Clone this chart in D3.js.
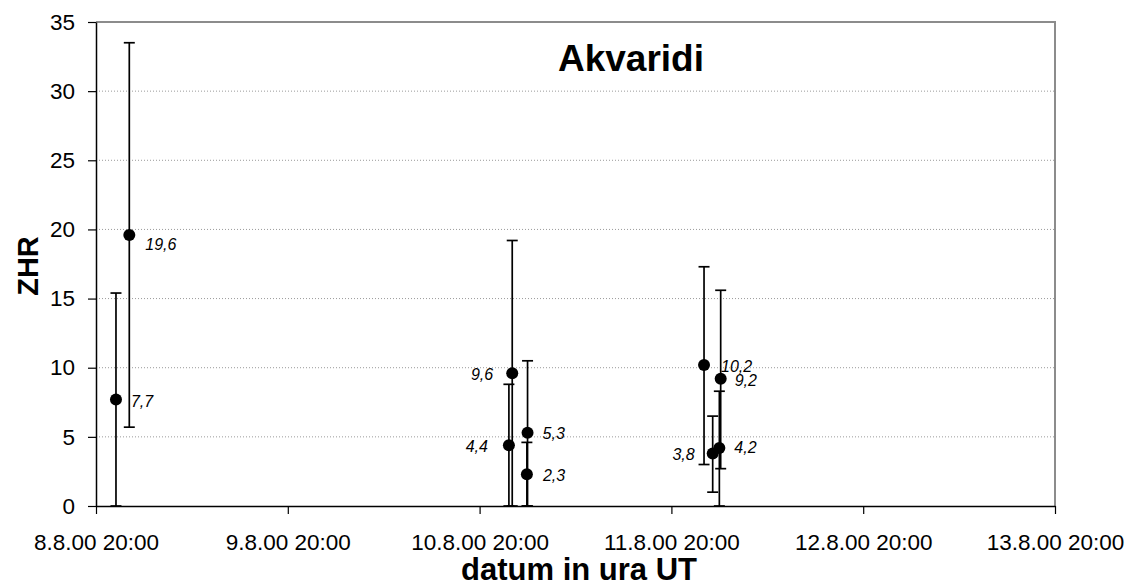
<html>
  <head>
    <script src='https://d3js.org/d3.v7.min.js'></script>
    <style>
      body { margin: 0; background: #fff; }
      text { font-family: 'Liberation Sans', Arial, sans-serif; }
    </style>
  </head>
  <body>
    <svg id='chart' width=1130 height=588></svg>
    <script>
      // observation times (UT) and ZHR with error bar limits
      const TIMES = ['2000-08-08T22:30', '2000-08-09T00:10', '2000-08-10T23:40', '2000-08-11T00:05', '2000-08-11T02:00',
                     '2000-08-11T01:55', '2000-08-12T00:05', '2000-08-12T02:10', '2000-08-12T01:10', '2000-08-12T02:00'];
      const ZHR = [7.7, 19.6, 4.4, 9.6, 5.3, 2.3, 10.2, 9.2, 3.8, 4.2];
      const ERR_LOW = [0, 5.7, 0, 0, 0, 0, 3.0, 2.7, 1.0, 0];
      const ERR_HIGH = [15.4, 33.5, 8.8, 19.2, 10.5, 4.6, 17.3, 15.6, 6.5, 8.3];
      const LABELS = ['7,7', '19,6', '4,4', '9,6', '5,3', '2,3', '10,2', '9,2', '3,8', '4,2'];
      const Y_TICKS = [0, 5, 10, 15, 20, 25, 30, 35];
      const X_TICKS = ['2000-08-08T20:00', '2000-08-09T20:00', '2000-08-10T20:00',
                       '2000-08-11T20:00', '2000-08-12T20:00', '2000-08-13T20:00'];

      // where each value label sits relative to its dot [dx, dy, anchor]
      const LABEL_POS = [[15, 2, 'start'], [16, 9, 'start'], [-21, 1, 'end'], [-19, 1, 'end'], [15, 1, 'start'],
                         [16, 1, 'start'], [17, 1, 'start'], [14, 2, 'start'], [-18, 1, 'end'], [15, -1, 'start']];

      const parse = d3.utcParse('%Y-%m-%dT%H:%M');
      const fmt = d3.utcFormat('%-d.%-m.%y %H:%M');

      const plotLeft = 96, plotRight = 1055, plotTop = 22, plotBottom = 506;
      const svg = d3.select('#chart');

      const x = d3.scaleUtc()
        .domain([parse(X_TICKS[0]), parse(X_TICKS[X_TICKS.length - 1])])
        .range([plotLeft, plotRight]);
      const y = d3.scaleLinear().domain([0, 35]).range([plotBottom, plotTop]);

      // gridlines
      svg.append('g').selectAll('line').data(Y_TICKS.filter(d => d > 0 && d < 35)).enter().append('line')
        .attr('x1', plotLeft).attr('x2', plotRight)
        .attr('y1', d => y(d)).attr('y2', d => y(d))
        .attr('stroke', '#9a9a9a').attr('stroke-width', 1).attr('stroke-dasharray', '1,2');

      // top and right frame
      svg.append('path')
        .attr('d', `M${plotLeft},${y(35)}H${plotRight}V${plotBottom}`)
        .attr('fill', 'none').attr('stroke', '#8c8c8c').attr('stroke-width', 2);

      // y axis
      const yAxis = svg.append('g').attr('transform', `translate(${plotLeft},0)`)
        .call(d3.axisLeft(y).tickValues(Y_TICKS).tickSize(8).tickSizeOuter(0).tickPadding(13));
      yAxis.select('.domain').attr('stroke', '#000').attr('stroke-width', 1.5);
      yAxis.selectAll('.tick line').attr('stroke', '#000').attr('stroke-width', 1.2);
      yAxis.selectAll('text').attr('font-size', 22.5).attr('fill', '#000');

      // x axis
      const xAxis = svg.append('g').attr('transform', `translate(0,${plotBottom})`)
        .call(d3.axisBottom(x).tickValues(X_TICKS.map(parse)).tickFormat(fmt).tickSize(8).tickSizeOuter(0).tickPadding(20));
      xAxis.select('.domain').attr('stroke', '#000').attr('stroke-width', 1.5);
      xAxis.selectAll('.tick line').attr('stroke', '#000').attr('stroke-width', 1.2);
      xAxis.selectAll('text').attr('font-size', 22.5).attr('fill', '#000');

      const pts = TIMES.map((t, i) => ({
        t: parse(t), v: ZHR[i], lo: ERR_LOW[i], hi: ERR_HIGH[i], label: LABELS[i], pos: LABEL_POS[i]
      }));

      // error bars
      const eb = svg.append('g').selectAll('g').data(pts).enter().append('g')
        .attr('stroke', '#000').attr('stroke-width', 1.7);
      eb.append('line')
        .attr('x1', d => x(d.t)).attr('x2', d => x(d.t))
        .attr('y1', d => y(d.lo)).attr('y2', d => y(d.hi));
      eb.append('line')
        .attr('x1', d => x(d.t) - 5.5).attr('x2', d => x(d.t) + 5.5)
        .attr('y1', d => y(d.hi)).attr('y2', d => y(d.hi));
      eb.append('line')
        .attr('x1', d => x(d.t) - 5.5).attr('x2', d => x(d.t) + 5.5)
        .attr('y1', d => y(d.lo)).attr('y2', d => y(d.lo));

      // dots
      svg.append('g').selectAll('circle').data(pts).enter().append('circle')
        .attr('cx', d => x(d.t)).attr('cy', d => y(d.v)).attr('r', 6).attr('fill', '#000');

      // value labels
      svg.append('g').selectAll('text').data(pts).enter().append('text')
        .attr('x', d => x(d.t) + d.pos[0]).attr('y', d => y(d.v) + d.pos[1])
        .attr('dy', '0.35em').attr('text-anchor', d => d.pos[2])
        .attr('font-size', 16).attr('font-style', 'italic').attr('fill', '#000')
        .text(d => d.label);

      // titles
      svg.append('text').attr('x', 631).attr('y', 71).attr('text-anchor', 'middle')
        .attr('font-size', 37).attr('font-weight', 'bold').text('Akvaridi');
      svg.append('text').attr('x', 579).attr('y', 580).attr('text-anchor', 'middle')
        .attr('font-size', 31).attr('font-weight', 'bold').text('datum in ura UT');
      svg.append('text').attr('transform', 'translate(38,266) rotate(-90)').attr('text-anchor', 'middle')
        .attr('font-size', 29).attr('font-weight', 'bold').text('ZHR');
    </script>
  </body>
</html>
